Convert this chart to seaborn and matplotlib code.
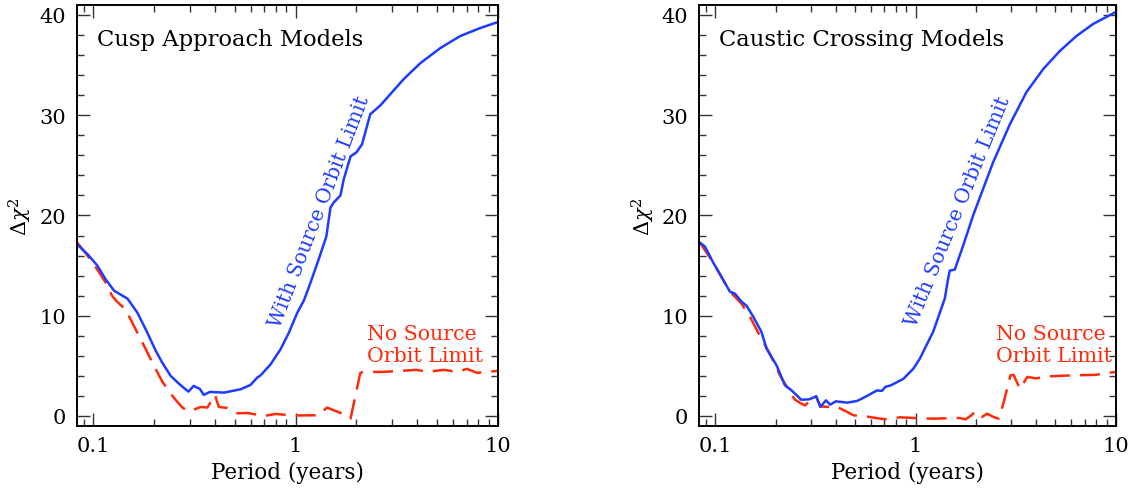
import numpy as np
import pandas as pd
import matplotlib
matplotlib.use("Agg")
import matplotlib.pyplot as plt
import seaborn as sns
from matplotlib.ticker import FixedLocator, FixedFormatter, NullFormatter, MultipleLocator, LogLocator

# ---------------- data ----------------
cusp_with_P = [0.0835, 0.0943, 0.105, 0.1156, 0.127, 0.1396, 0.148, 0.1656, 0.1855, 0.204,
               0.22, 0.2417, 0.271, 0.296, 0.314, 0.337, 0.352, 0.378, 0.443, 0.535,
               0.60, 0.647, 0.672, 0.753, 0.843, 0.927, 1.02, 1.099, 1.186, 1.30,
               1.42, 1.488, 1.545, 1.667, 1.73, 1.87, 2.0, 2.13, 2.34, 2.63,
               2.94, 3.42, 4.14, 5.19, 6.51, 8.18, 10.0]
cusp_with_y = [17.1, 16.1, 15.0, 13.6, 12.5, 12.0, 11.7, 10.3, 8.3, 6.5,
               5.3, 4.0, 3.06, 2.43, 3.0, 2.7, 2.1, 2.4, 2.33, 2.66,
               3.1, 3.83, 4.05, 5.15, 6.65, 8.3, 10.3, 11.5, 13.3, 15.6,
               17.9, 20.8, 21.3, 22.0, 23.6, 25.9, 26.3, 27.1, 30.1, 31.0,
               32.1, 33.6, 35.2, 36.7, 37.9, 38.7, 39.3]

cusp_no_P = [0.0835, 0.093, 0.105, 0.118, 0.124, 0.130, 0.145, 0.159, 0.1786, 0.2,
             0.22, 0.251, 0.276, 0.298, 0.34, 0.367, 0.40, 0.418, 0.46, 0.516,
             0.578, 0.698, 0.797, 0.98, 1.30, 1.43, 1.67, 1.87, 2.09, 2.17,
             2.73, 3.3, 3.98, 4.47, 5.4, 6.28, 7.03, 7.88, 10.0]
cusp_no_y = [17.3, 16.1, 14.6, 13.0, 12.0, 11.5, 10.6, 9.0, 7.0, 5.0,
             3.4, 1.8, 0.84, 0.45, 0.9, 0.84, 2.1, 0.9, 0.8, 0.27,
             0.3, 0.0, 0.2, 0.05, 0.07, 0.84, 0.3, -0.26, 4.3, 4.4,
             4.4, 4.5, 4.6, 4.4, 4.6, 4.4, 4.7, 4.3, 4.5]

caustic_with_P = [0.0838, 0.0888, 0.0977, 0.1076, 0.1184, 0.1254, 0.1353, 0.1434, 0.1548, 0.170,
                  0.1805, 0.2024, 0.2228, 0.2404, 0.269, 0.295, 0.319, 0.335, 0.357, 0.375,
                  0.40, 0.457, 0.512, 0.573, 0.642, 0.68, 0.706, 0.753, 0.869, 0.974,
                  1.05, 1.225, 1.40, 1.455, 1.483, 1.571, 1.73, 1.94, 2.18, 2.44,
                  2.96, 3.58, 4.34, 5.25, 6.36, 7.7, 10.0]
caustic_with_y = [17.3, 16.9, 15.3, 13.85, 12.4, 12.2, 11.4, 11.0, 9.9, 8.4,
                  6.7, 5.05, 3.06, 2.56, 1.62, 1.66, 1.96, 0.9, 1.56, 1.13,
                  1.46, 1.33, 1.5, 2.0, 2.55, 2.5, 2.9, 3.05, 3.7, 4.7,
                  5.7, 8.4, 11.7, 13.7, 14.5, 14.6, 17.0, 20.0, 22.7, 25.3,
                  29.1, 32.3, 34.6, 36.4, 37.9, 39.1, 40.3]

caustic_no_P = [0.0838, 0.0977, 0.1184, 0.1254, 0.1353, 0.149, 0.167, 0.1875, 0.2104, 0.236,
                0.249, 0.269, 0.281, 0.295, 0.319, 0.335, 0.371, 0.40, 0.44, 0.49,
                0.55, 0.667, 0.72, 0.837, 0.974, 1.22, 1.65, 1.78, 1.90, 2.0,
                2.15, 2.28, 2.45, 2.61, 2.76, 2.98, 3.09, 3.32, 3.62, 3.98,
                4.62, 6.02, 7.9, 10.0]
caustic_no_y = [17.3, 15.3, 12.4, 11.9, 11.2, 9.9, 8.0, 6.2, 4.05, 2.4,
                1.66, 1.23, 1.06, 1.46, 1.96, 0.95, 0.9, 0.96, 0.56, 0.07,
                0.0, -0.27, -0.33, -0.13, -0.2, -0.27, -0.2, -0.33, 0.07, 0.47,
                -0.1, 0.23, -0.1, -0.27, 1.4, 4.05, 4.1, 2.7, 3.9, 3.75,
                3.95, 4.05, 4.1, 4.4]

panel_titles = ["Cusp Approach Models", "Caustic Crossing Models"]
xtick_vals = [0.1, 1, 10]
xtick_labels = ["0.1", "1", "10"]
ytick_vals = [0, 10, 20, 30, 40]

# ---------------- style ----------------
sns.set_style("ticks")
plt.rcParams["font.family"] = ["DejaVu Serif"]
plt.rcParams["mathtext.fontset"] = "dejavuserif"
plt.rcParams["text.color"] = "black"
plt.rcParams["axes.labelcolor"] = "black"

BLUE = "#1e3cff"
RED = "#ff2a0a"

fig = plt.figure(figsize=(11.39, 4.89), dpi=100)
ax1 = fig.add_axes([0.0676, 0.1268, 0.3696, 0.861])
ax2 = fig.add_axes([0.614, 0.1268, 0.3656, 0.861])


def draw(ax, Pw, yw, Pn, yn, title, rot_xy, rot_angle, no_xy):
    df_n = pd.DataFrame({"P": Pn, "chi": yn})
    df_w = pd.DataFrame({"P": Pw, "chi": yw})
    sns.lineplot(data=df_n, x="P", y="chi", ax=ax, color=RED, lw=1.8,
                 linestyle=(0, (8, 4)), estimator=None)
    sns.lineplot(data=df_w, x="P", y="chi", ax=ax, color=BLUE, lw=1.8,
                 estimator=None)
    ax.set_xscale("log")
    ax.set_xlim(0.0833, 10)
    ax.set_ylim(-1, 41)
    ax.xaxis.set_major_locator(FixedLocator(xtick_vals))
    ax.xaxis.set_major_formatter(FixedFormatter(xtick_labels))
    ax.xaxis.set_minor_locator(LogLocator(base=10, subs=np.arange(2, 10)))
    ax.xaxis.set_minor_formatter(NullFormatter())
    ax.yaxis.set_major_locator(FixedLocator(ytick_vals))
    ax.yaxis.set_minor_locator(MultipleLocator(2))
    ax.tick_params(which="both", direction="in", top=True, right=True,
                   color="#333333", labelsize=15, labelcolor="black")
    ax.tick_params(which="major", length=9.5, width=1.0)
    ax.tick_params(which="minor", length=5, width=1.0)
    ax.tick_params(axis="x", which="major", pad=7)
    ax.tick_params(axis="y", which="major", pad=8)
    for s in ax.spines.values():
        s.set_linewidth(1.4)
        s.set_color("black")
    ax.set_xlabel("Period (years)", fontsize=15.5)
    ax.set_ylabel(r"$\Delta\chi^2$", fontsize=15)
    ax.xaxis.set_label_coords(0.5, -0.083)
    ax.yaxis.set_label_coords(-0.102, 0.5)
    ax.text(0.048, 0.919, title, transform=ax.transAxes, ha="left", va="center",
            fontsize=16.3)
    ax.text(rot_xy[0], rot_xy[1], "With Source Orbit Limit", color=BLUE,
            rotation=rot_angle, rotation_mode="anchor", ha="center", va="center",
            fontsize=14.5)
    ax.text(no_xy[0], no_xy[1], "No Source", color=RED, ha="left", va="center",
            fontsize=14.8)
    ax.text(no_xy[0], no_xy[1] - 2.15, "Orbit Limit", color=RED, ha="left",
            va="center", fontsize=14.8)


draw(ax1, cusp_with_P, cusp_with_y, cusp_no_P, cusp_no_y, panel_titles[0],
     (1.307, 20.46), 68.8, (2.26, 8.2))
draw(ax2, caustic_with_P, caustic_with_y, caustic_no_P, caustic_no_y, panel_titles[1],
     (1.62, 20.46), 67.6, (2.52, 8.2))

fig.savefig("out.png", dpi=100)
